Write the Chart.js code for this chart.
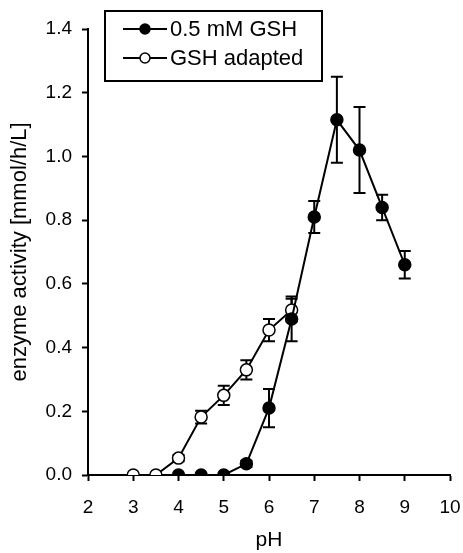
<!DOCTYPE html>
<html>
<head>
<meta charset="utf-8">
<script src="https://cdn.jsdelivr.net/npm/chart.js@4.4.1/dist/chart.umd.min.js"></script>
<style>
  html, body { margin: 0; padding: 0; background: #fff; }
  #wrap { width: 463px; height: 553px; position: relative; }
</style>
</head>
<body>
<div id="wrap"><canvas id="c" width="463" height="553"></canvas></div>
<script>
// ---- data ----
const seriesNames = ['0.5 mM GSH', 'GSH adapted'];
const phGSH = [4, 4.5, 5, 5.5, 6, 6.5, 7, 7.5, 8, 8.5, 9];
const actGSH = [0, 0, 0, 0.035, 0.21, 0.49, 0.81, 1.115, 1.02, 0.84, 0.66];
const errGSH = [0, 0, 0, 0.01, 0.06, 0.07, 0.05, 0.135, 0.135, 0.04, 0.043];
const phAdapted = [3, 3.5, 4, 4.5, 5, 5.5, 6, 6.5];
const actAdapted = [0, 0, 0.053, 0.182, 0.25, 0.33, 0.455, 0.518];
const errAdapted = [0, 0, 0.01, 0.02, 0.03, 0.03, 0.035, 0.035];
const xTicks = [2, 3, 4, 5, 6, 7, 8, 9, 10];
const yTicks = [0, 0.2, 0.4, 0.6, 0.8, 1.0, 1.2, 1.4];

const FONT = '"Liberation Sans", Arial, sans-serif';

const errorBarPlugin = {
  id: 'errorBars',
  beforeDatasetsDraw(chart) {
    const ctx = chart.ctx;
    const xs = chart.scales.x, ys = chart.scales.y;
    chart.data.datasets.forEach((ds) => {
      ctx.save();
      ctx.strokeStyle = '#000';
      ctx.lineWidth = 2;
      ds.data.forEach((p, i) => {
        const e = ds.errors[i];
        if (!e) return;
        const px = xs.getPixelForValue(p.x);
        const top = ys.getPixelForValue(p.y + e);
        const bot = ys.getPixelForValue(p.y - e);
        ctx.beginPath();
        ctx.moveTo(px, top); ctx.lineTo(px, bot);
        ctx.moveTo(px - 6, top); ctx.lineTo(px + 6, top);
        ctx.moveTo(px - 6, bot); ctx.lineTo(px + 6, bot);
        ctx.stroke();
      });
      ctx.restore();
    });
  }
};

const legendPlugin = {
  id: 'boxLegend',
  afterDraw(chart) {
    const ctx = chart.ctx;
    const bx = 105, by = 11, bw = 217, bh = 70;
    ctx.save();
    ctx.fillStyle = '#fff';
    ctx.fillRect(bx, by, bw, bh);
    ctx.strokeStyle = '#000';
    ctx.lineWidth = 2;
    ctx.strokeRect(bx, by, bw, bh);
    const rows = [29, 58];
    chart.data.datasets.forEach((ds, i) => {
      const y = rows[i];
      ctx.beginPath();
      ctx.lineWidth = 2;
      ctx.moveTo(123, y); ctx.lineTo(167, y);
      ctx.stroke();
      ctx.beginPath();
      ctx.arc(145, y, 5, 0, Math.PI * 2);
      ctx.fillStyle = ds.pointBackgroundColor;
      ctx.fill();
      ctx.lineWidth = 1.5;
      ctx.stroke();
      ctx.fillStyle = '#000';
      ctx.font = '22px ' + FONT;
      ctx.textBaseline = 'middle';
      ctx.textAlign = 'left';
      ctx.fillText(ds.label, 170, y + 1);
    });
    ctx.restore();
  }
};

new Chart(document.getElementById('c'), {
  type: 'scatter',
  data: {
    datasets: [
      {
        label: seriesNames[0],
        data: phGSH.map((x, i) => ({ x, y: actGSH[i] })),
        errors: errGSH,
        showLine: true,
        borderColor: '#000',
        borderWidth: 2,
        pointRadius: 6,
        pointBackgroundColor: '#000',
        pointBorderColor: '#000',
        pointBorderWidth: 1.5
      },
      {
        label: seriesNames[1],
        data: phAdapted.map((x, i) => ({ x, y: actAdapted[i] })),
        errors: errAdapted,
        showLine: true,
        borderColor: '#000',
        borderWidth: 2,
        pointRadius: 6,
        pointBackgroundColor: '#fff',
        pointBorderColor: '#000',
        pointBorderWidth: 1.5
      }
    ]
  },
  options: {
    responsive: false,
    animation: false,
    devicePixelRatio: 1,
    layout: { padding: { left: 0, right: 13, top: 29, bottom: 0 } },
    plugins: { legend: { display: false }, tooltip: { enabled: false } },
    scales: {
      x: {
        type: 'linear',
        min: 2, max: 10,
        afterBuildTicks(s) { s.ticks = xTicks.map(v => ({ value: v })); },
        afterFit(s) { s.height = 78; s.paddingRight = 0; s.paddingLeft = 0; },
        grid: { drawOnChartArea: false, drawTicks: true, tickLength: 6, tickWidth: 2, color: '#000' },
        border: { display: true, color: '#000', width: 2 },
        ticks: { color: '#000', font: { family: FONT, size: 19 }, padding: 15, maxRotation: 0 },
        title: { display: true, text: 'pH', color: '#000', font: { family: FONT, size: 21 }, padding: { top: 11, bottom: 0 } }
      },
      y: {
        type: 'linear',
        min: 0, max: 1.4,
        afterBuildTicks(s) { s.ticks = yTicks.map(v => ({ value: v })); },
        afterFit(s) { s.width = 88; s.paddingTop = 0; s.paddingBottom = 0; },
        grid: { drawOnChartArea: false, drawTicks: true, tickLength: 6, tickWidth: 2, color: '#000' },
        border: { display: true, color: '#000', width: 2 },
        ticks: { color: '#000', font: { family: FONT, size: 19 }, padding: 10, callback: v => v.toFixed(1) },
        title: { display: true, text: 'enzyme activity [mmol/h/L]', color: '#000', font: { family: FONT, size: 22 }, padding: { top: 7, bottom: 0 } }
      }
    }
  },
  plugins: [errorBarPlugin, legendPlugin]
});
</script>
</body>
</html>
